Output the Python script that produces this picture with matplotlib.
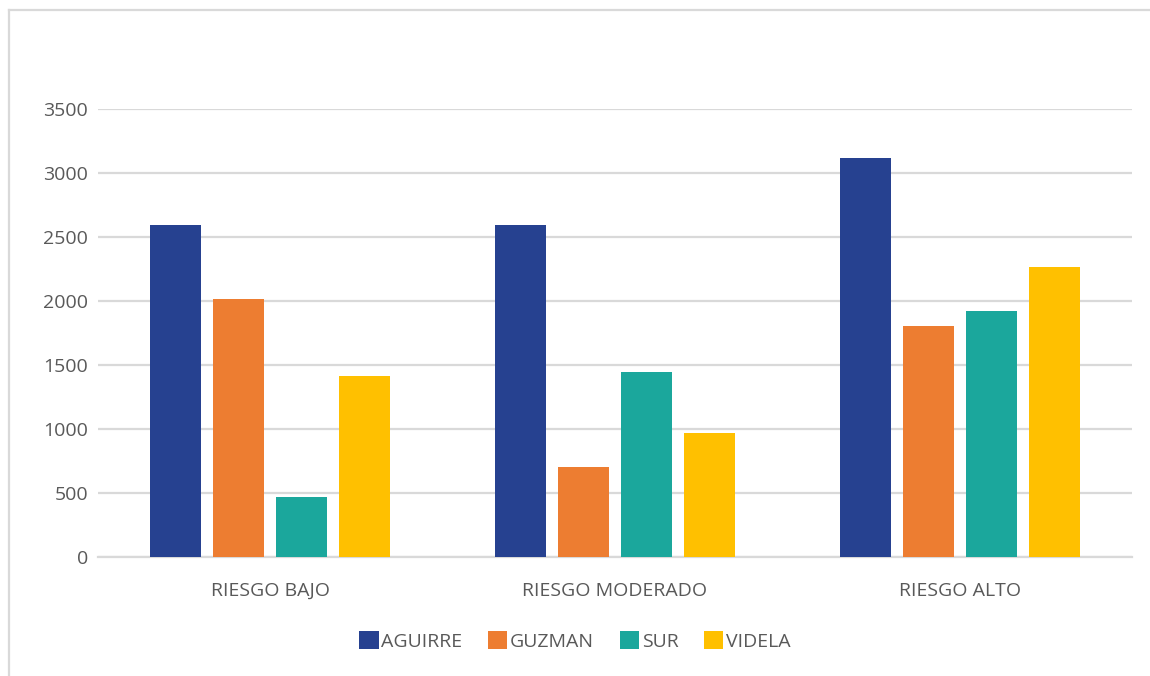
import numpy as np
import matplotlib
matplotlib.use("Agg")
import matplotlib.pyplot as plt
from matplotlib.lines import Line2D
from matplotlib.patches import Patch

plt.rcParams["font.family"] = ["Open Sans", "DejaVu Sans"]

categories = ["RIESGO BAJO", "RIESGO MODERADO", "RIESGO ALTO"]
series_names = ["AGUIRRE", "GUZMAN", "SUR", "VIDELA"]
aguirre = [2590, 2590, 3115]
guzman = [2010, 700, 1800]
sur = [470, 1445, 1920]
videla = [1410, 970, 2260]
yticks = [0, 500, 1000, 1500, 2000, 2500, 3000, 3500]

colors = ["#264190", "#ED7D31", "#1BA79C", "#FFC000"]
TEXT = "#595959"
GRID = "#D9D9D9"

fig = plt.figure(figsize=(11.5, 6.76), dpi=100)
ax = fig.add_axes([98 / 1150, 1 - 556.7 / 676, (1132 - 98) / 1150, (556.7 - 108.7) / 676])

x = np.arange(len(categories))
pitch = 0.183
width = 0.148
handles = []
for i, (name, vals) in enumerate(zip(series_names, [aguirre, guzman, sur, videla])):
    xs = x + (i - 1.5) * pitch
    ax.bar(xs, vals, width=width, color=colors[i], zorder=3)
    handles.append(Patch(facecolor=colors[i], label=name))

ax.set_xlim(-0.5, 2.5)
ax.set_ylim(0, 3500)
ax.set_yticks(yticks)
ax.set_yticklabels([str(v) for v in yticks])
ax.set_xticks(x)
ax.set_xticklabels(categories)
ax.tick_params(axis="both", length=0, colors=TEXT, labelsize=14)
ax.tick_params(axis="y", pad=7)
ax.tick_params(axis="x", pad=18)
ax.grid(True, axis="y", color=GRID, lw=1.6, zorder=0)
for s in ("top", "right", "left"):
    ax.spines[s].set_visible(False)
ax.spines["bottom"].set_color(GRID)
ax.spines["bottom"].set_linewidth(1.6)

leg = fig.legend(handles=handles, loc="center", bbox_to_anchor=(0.5, 1 - 641 / 676),
                 ncol=4, frameon=False, fontsize=14, handlelength=1.0, handleheight=1.0,
                 handletextpad=0.15, columnspacing=1.3, labelcolor=TEXT)

# chart-area frame (only top and left edges are visible in the crop)
fig.add_artist(Line2D([9 / 1150, 1], [1 - 10 / 676, 1 - 10 / 676], transform=fig.transFigure,
                      color=GRID, lw=1.6))
fig.add_artist(Line2D([9 / 1150, 9 / 1150], [0, 1 - 10 / 676], transform=fig.transFigure,
                      color=GRID, lw=1.6))

fig.savefig("out.png", dpi=100, facecolor="white")
